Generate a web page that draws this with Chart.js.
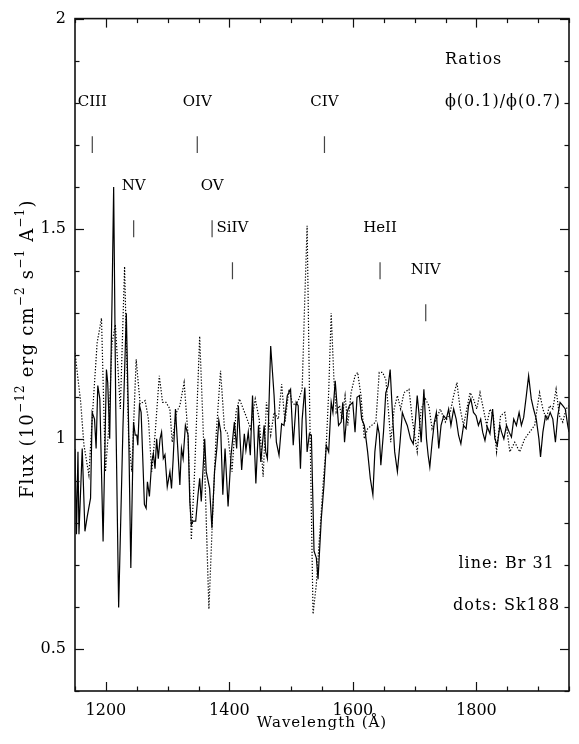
<!DOCTYPE html>
<html><head><meta charset="utf-8">
<script src="https://cdn.jsdelivr.net/npm/chart.js@4.4.1/dist/chart.umd.min.js"></script>
<style>html,body{margin:0;padding:0;background:#fff;}canvas{display:block;}</style>
</head><body>
<canvas id="c" width="579" height="744"></canvas>
<script>
// ---- Data: Br 31 (solid line) ----
const wavelengthBr31 = [1150.0,1152.4,1154.8,1156.4,1161.7,1166.1,1169.8,1175.2,1177.8,1181.6,1184.2,1186.9,1190.2,1195.5,1200.9,1203.0,1206.2,1209.9,1212.6,1215.9,1220.7,1227.6,1233.1,1236.7,1240.4,1244.8,1247.5,1250.1,1251.7,1254.4,1257.1,1262.4,1265.2,1267.3,1270.5,1274.2,1276.9,1279.6,1282.2,1284.9,1287.7,1290.2,1293.0,1295.7,1299.4,1303.7,1306.3,1309.0,1312.7,1315.5,1319.8,1322.4,1325.1,1328.8,1333.1,1335.9,1338.4,1341.2,1345.5,1349.2,1351.9,1354.5,1360.0,1362.5,1368.0,1371.7,1376.0,1379.7,1382.9,1386.1,1389.4,1393.0,1397.9,1402.7,1408.1,1411.8,1414.6,1419.9,1424.2,1426.8,1430.6,1433.9,1437.5,1442.9,1447.2,1450.9,1456.3,1458.9,1461.6,1466.9,1472.4,1476.1,1480.4,1484.6,1488.5,1493.8,1499.1,1503.4,1508.2,1511.4,1515.1,1517.9,1522.2,1525.9,1529.6,1532.8,1537.1,1540.8,1543.6,1548.9,1553.2,1556.9,1560.8,1564.9,1567.7,1571.4,1576.8,1581.0,1583.7,1586.5,1590.6,1594.5,1599.8,1603.5,1606.7,1610.6,1614.3,1618.6,1623.9,1628.2,1632.4,1635.6,1640.0,1642.7,1645.3,1649.6,1653.3,1657.1,1660.4,1664.0,1667.7,1672.1,1676.4,1680.1,1683.8,1688.1,1693.4,1697.8,1701.5,1704.2,1706.9,1710.6,1715.0,1719.2,1721.9,1724.6,1728.3,1732.0,1735.2,1739.1,1742.8,1747.1,1751.3,1755.1,1758.8,1763.2,1767.3,1771.2,1774.9,1779.2,1783.4,1787.3,1791.0,1795.3,1799.5,1803.3,1807.0,1810.2,1813.9,1817.8,1822.0,1826.3,1830.0,1833.9,1838.0,1840.8,1844.5,1848.8,1853.1,1856.8,1860.5,1864.8,1869.2,1872.9,1876.6,1880.9,1884.6,1888.9,1892.6,1897.0,1901.3,1903.9,1907.7,1911.9,1915.8,1919.5,1923.8,1928.0,1931.8,1935.5,1939.9,1944.0,1947.9,1950.0];
const fluxBr31 = [0.976,0.773,0.969,0.773,0.977,0.780,0.815,0.859,1.063,1.047,0.977,1.127,1.095,0.756,1.165,1.134,1.000,1.323,1.599,1.087,0.599,1.024,1.299,1.040,0.693,1.040,1.009,1.009,0.985,1.080,1.063,0.844,0.835,0.898,0.863,0.945,0.965,0.929,1.000,0.953,1.000,1.016,0.953,0.962,0.886,0.922,0.882,0.953,1.071,1.000,0.890,0.977,0.953,1.032,1.009,0.851,0.796,0.804,0.804,0.867,0.906,0.851,1.000,0.922,0.882,0.788,0.922,0.977,1.044,1.016,0.867,0.977,0.839,0.961,1.040,0.977,1.079,0.926,1.012,0.973,1.016,0.961,1.103,0.894,1.032,0.945,1.032,0.969,0.953,1.221,1.103,0.992,0.961,1.036,1.032,1.103,1.118,0.985,1.087,1.079,0.929,1.047,1.122,0.969,1.012,1.009,0.733,0.717,0.666,0.811,0.890,0.985,0.969,1.087,1.063,1.138,1.032,1.040,1.087,0.992,1.063,1.079,1.087,1.016,1.099,1.103,1.047,1.032,0.969,0.906,0.867,0.969,1.032,1.012,0.937,1.016,1.110,1.126,1.165,1.063,0.969,0.922,0.992,1.063,1.047,1.032,1.000,0.988,1.047,1.103,1.063,0.992,1.118,1.000,0.961,0.933,0.992,1.040,1.063,0.977,1.032,1.055,1.047,1.071,1.032,1.071,1.047,1.008,0.988,1.032,1.024,1.079,1.095,1.063,1.055,1.032,1.047,1.016,0.996,1.028,1.012,1.071,1.000,0.985,1.032,1.016,1.000,1.032,1.016,1.004,1.047,1.032,1.063,1.032,1.051,1.103,1.150,1.095,1.071,1.047,1.000,0.957,1.016,1.055,1.047,1.063,1.047,0.992,1.055,1.087,1.079,1.071,1.032,1.016];

// ---- Data: Sk188 (dotted line) ----
const wavelengthSk188 = [1150.0,1159.2,1164.5,1172.5,1177.8,1185.8,1192.9,1199.3,1204.6,1209.9,1215.4,1223.4,1230.3,1236.7,1242.0,1249.1,1255.5,1263.6,1268.9,1274.2,1279.6,1286.5,1291.8,1297.3,1303.7,1307.4,1314.3,1319.8,1326.7,1333.1,1338.4,1343.9,1351.9,1360.0,1366.9,1373.3,1378.6,1385.7,1392.1,1397.4,1404.3,1410.7,1416.2,1426.8,1434.3,1441.9,1448.3,1454.7,1460.0,1466.9,1472.4,1479.3,1484.6,1490.1,1496.5,1501.8,1507.1,1512.6,1517.9,1521.9,1525.9,1529.9,1535.5,1540.8,1546.3,1551.6,1556.9,1560.8,1564.9,1569.3,1573.0,1578.4,1582.6,1587.4,1591.8,1597.1,1603.5,1607.8,1613.1,1618.6,1623.9,1630.3,1637.2,1642.7,1648.0,1653.3,1658.7,1661.3,1666.8,1672.1,1677.4,1682.8,1690.9,1696.2,1704.2,1710.6,1717.5,1723.0,1728.3,1735.2,1741.6,1749.7,1757.7,1763.2,1768.5,1773.8,1779.2,1784.5,1789.8,1795.3,1800.6,1805.9,1811.4,1816.7,1822.0,1827.4,1832.7,1839.2,1846.1,1854.1,1862.1,1870.2,1878.2,1886.2,1894.3,1902.3,1907.7,1913.1,1918.4,1923.8,1929.1,1934.4,1939.9,1945.2,1950.0];
const fluxSk188 = [1.205,1.087,0.985,0.914,1.047,1.228,1.287,0.922,1.024,1.228,1.272,1.071,1.410,1.009,0.922,1.189,1.083,1.091,1.047,0.922,1.009,1.150,1.087,1.087,1.071,0.992,1.063,1.079,1.134,1.009,0.760,0.929,1.244,0.929,0.595,0.835,1.009,1.162,1.024,1.012,0.922,1.063,1.095,1.055,1.024,1.095,1.047,0.910,1.087,1.009,1.063,1.047,1.130,1.040,1.118,1.087,1.079,1.095,1.118,1.323,1.507,1.087,0.583,0.654,0.772,0.890,0.985,1.110,1.299,1.142,1.063,1.079,1.047,1.103,1.032,1.110,1.150,1.158,1.103,1.000,1.024,1.032,1.040,1.158,1.158,1.142,1.047,0.992,1.071,1.103,1.071,1.110,1.118,1.047,0.969,1.071,1.095,1.079,1.024,1.047,1.071,1.040,1.063,1.103,1.134,1.071,1.032,1.071,1.110,1.095,1.071,1.110,1.071,1.032,1.071,1.055,0.969,1.055,1.063,0.969,0.992,0.969,1.000,1.016,1.032,1.110,1.071,1.047,1.079,1.071,1.118,1.055,1.040,1.071,1.079];

// ---- Line identifications ----
const lineNames       = ['CIII','OIV','CIV','NV','OV','SiIV','HeII','NIV'];
const lineWavelengths = [1178,1348,1554,1245,1372,1405,1644,1718];
const lineLabelFlux   = [1.80,1.80,1.80,1.60,1.60,1.50,1.50,1.40];
const lineTickLow     = [1.68,1.68,1.68,1.48,1.48,1.38,1.38,1.28];
const lineTickHigh    = [1.72,1.72,1.72,1.52,1.52,1.42,1.42,1.32];

// ---- Axes ----
const xRange = [1150, 1950];
const yRange = [0.4, 2.0];
const xTickLabels = [1200, 1400, 1600, 1800];
const yTickLabels = [0.5, 1, 1.5, 2];

// ---- Free text ----
const notes = [
  {text:'Ratios', x:1749, y:1.90, align:'left'},
  {text:'\u03D5(0.1)/\u03D5(0.7)', x:1749, y:1.80, align:'left'},
  {text:'line: Br 31', x:1849, y:0.70, align:'center'},
  {text:'dots: Sk188', x:1849, y:0.60, align:'center'}
];

const FONT = '"DejaVu Serif", "Liberation Serif", serif';
const INK = '#000';

const seriesDatasets = [
  {label:'Br 31', data: wavelengthBr31.map((w,i)=>({x:w, y:fluxBr31[i]})),
   borderColor:'#000', borderWidth:1.2, pointRadius:0, tension:0, order:1},
  {label:'Sk188', data: wavelengthSk188.map((w,i)=>({x:w, y:fluxSk188[i]})),
   borderColor:'#000', borderWidth:1.2, borderDash:[1.3,1.7], pointRadius:0, tension:0, order:2}
];
const markerDatasets = lineNames.map((n,i)=>({
  label:n+' mark', data:[{x:lineWavelengths[i], y:lineTickLow[i]},{x:lineWavelengths[i], y:lineTickHigh[i]}],
  borderColor:'#444', borderWidth:1.2, pointRadius:0
}));

const isMajorX = v => xTickLabels.some(t=>Math.abs(t-v)<1e-6);
const isMajorY = v => yTickLabels.some(t=>Math.abs(t-v)<1e-6);

const framePlugin = {
  id:'frameAndText',
  afterDatasetsDraw(chart){
    const {ctx, chartArea:a, scales:{x, y}} = chart;
    ctx.save();
    ctx.strokeStyle = '#111';
    ctx.lineWidth = 1.2;
    const seg=(x1,y1,x2,y2)=>{ctx.beginPath();ctx.moveTo(x1,y1);ctx.lineTo(x2,y2);ctx.stroke();};
    x.ticks.forEach(t=>{
      const px = Math.round(x.getPixelForValue(t.value))+0.5;
      const L = isMajorX(t.value)?9:4.5;
      seg(px,a.bottom,px,a.bottom-L); seg(px,a.top,px,a.top+L);
    });
    y.ticks.forEach(t=>{
      const py = Math.round(y.getPixelForValue(t.value))+0.5;
      const L = isMajorY(t.value)?9:4.5;
      seg(a.left,py,a.left+L,py); seg(a.right,py,a.right-L,py);
    });
    ctx.lineWidth = 1.6;
    ctx.strokeRect(a.left, a.top, a.right-a.left, a.bottom-a.top);

    // line identification labels
    ctx.fillStyle = INK;
    ctx.textBaseline = 'middle';
    ctx.font = '15px '+FONT;
    ctx.textAlign = 'center';
    ctx.letterSpacing = '0px';
    lineNames.forEach((n,i)=>{
      ctx.fillText(n, x.getPixelForValue(lineWavelengths[i]), y.getPixelForValue(lineLabelFlux[i]) - 1);
    });
    ctx.font = '16px '+FONT;
    ctx.letterSpacing = '1px';
    notes.forEach(nt=>{
      ctx.textAlign = nt.align;
      ctx.fillText(nt.text, x.getPixelForValue(nt.x), y.getPixelForValue(nt.y) - 1);
    });

    // axis titles
    ctx.textAlign = 'center';
    ctx.letterSpacing = '1px';
    ctx.font = '15px '+FONT;
    ctx.fillText('Wavelength (\u00C5)', (a.left+a.right)/2, 723);

    ctx.letterSpacing = '1.2px';
    const segs = [['Flux (10',0],['\u221212',1],[' erg cm',0],['\u22122',1],[' s',0],['\u22121',1],[' A',0],['\u22121',1],[')',0]];
    const fMain = '18px '+FONT, fSup = '12px '+FONT;
    let total = 0;
    segs.forEach(s=>{ctx.font = s[1]?fSup:fMain; total += ctx.measureText(s[0]).width;});
    ctx.translate(28, (a.top+a.bottom)/2 - 6);
    ctx.rotate(-Math.PI/2);
    ctx.textAlign = 'left';
    let cx = -total/2;
    segs.forEach(s=>{
      ctx.font = s[1]?fSup:fMain;
      ctx.fillText(s[0], cx, s[1]?-7:0);
      cx += ctx.measureText(s[0]).width;
    });
    ctx.restore();
  }
};

new Chart(document.getElementById('c'), {
  type:'line',
  data:{datasets:[...seriesDatasets, ...markerDatasets]},
  options:{
    responsive:false, animation:false, devicePixelRatio:1,
    layout:{padding:{top:13, right:6, left:0, bottom:0}},
    plugins:{legend:{display:false}, tooltip:{enabled:false}},
    scales:{
      x:{type:'linear', min:xRange[0], max:xRange[1],
         afterFit(s){s.height = 53;},
         border:{display:false},
         grid:{display:false, drawTicks:false},
         ticks:{stepSize:50, autoSkip:false, maxRotation:0, padding:10, color:INK,
                font:{family:FONT, size:16},
                callback:v=>isMajorX(v)?String(v):''}},
      y:{type:'linear', min:yRange[0], max:yRange[1],
         afterFit(s){s.width = 75;},
         border:{display:false},
         grid:{display:false, drawTicks:false},
         ticks:{stepSize:0.1, autoSkip:false, padding:9, color:INK,
                font:{family:FONT, size:16},
                callback:v=>isMajorY(v)?String(Number(v.toFixed(1))):''}}
    }
  },
  plugins:[framePlugin]
});
</script>
</body></html>
